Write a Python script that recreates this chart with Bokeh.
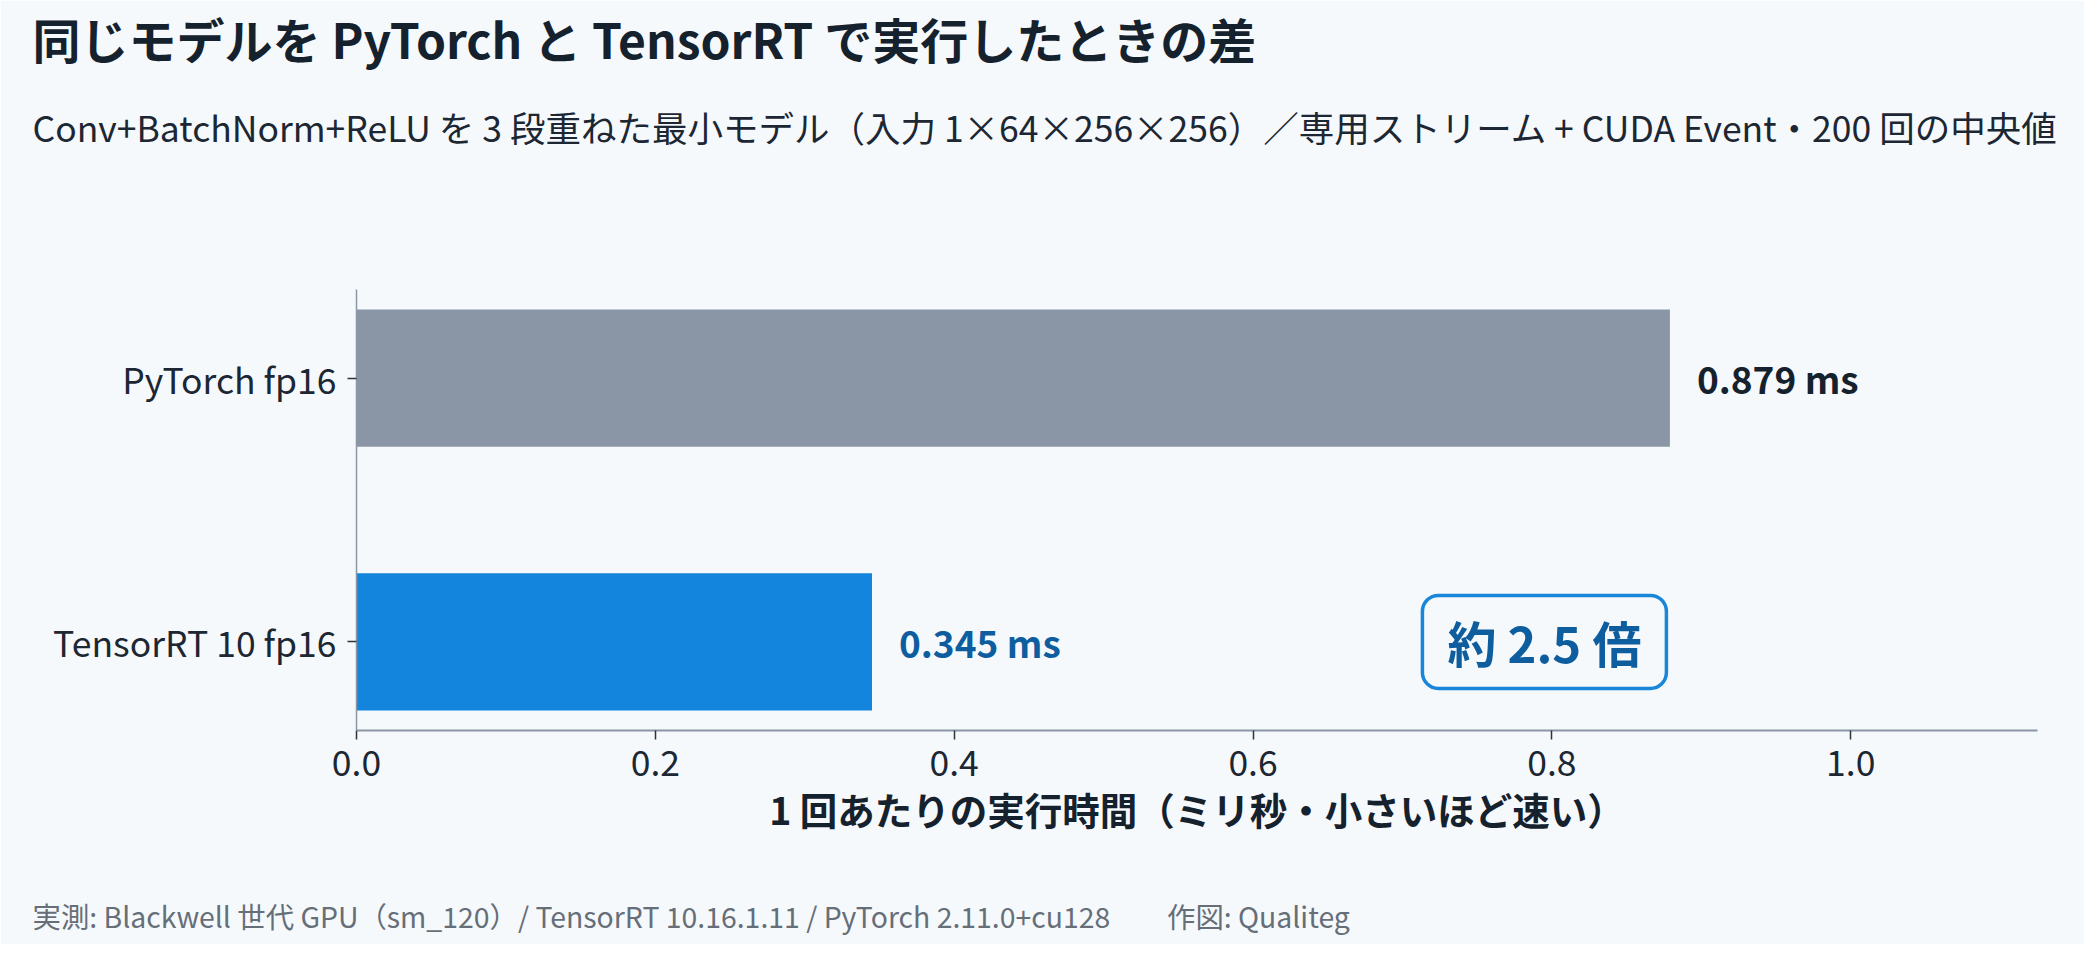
from bokeh.plotting import figure
from bokeh.models import Range1d, FixedTicker, Label, Title, ColumnDataSource, NumeralTickFormatter
from bokeh.core.properties import value
from bokeh.embed import file_html
from bokeh.resources import INLINE

# ---- data ----
categories = ["TensorRT 10 fp16", "PyTorch fp16"]
times_ms = [0.345, 0.879]
bar_colors = ["#1385dc", "#8a96a5"]
label_colors = ["#0e5e9f", "#15222e"]
x_ticks = [0.0, 0.2, 0.4, 0.6, 0.8, 1.0]

title_text = "同じモデルを PyTorch と TensorRT で実行したときの差"
subtitle_text = "Conv+BatchNorm+ReLU を 3 段重ねた最小モデル（入力 1×64×256×256）／専用ストリーム + CUDA Event・200 回の中央値"
xlabel_text = "1 回あたりの実行時間（ミリ秒・小さいほど速い）"
footer_text = "実測: Blackwell 世代 GPU（sm_120）/ TensorRT 10.16.1.11 / PyTorch 2.11.0+cu128　　作図: Qualiteg"

FONT = "Noto Sans CJK JP"
BG = "#f5f9fc"
DARK = "#15222e"

W, H = 2084, 944
FL, FR, FT, FB = 356, 2037, 287, 730  # frame edges in figure px
X0, X1 = 0.0, 1.125
Y0, Y1 = -0.336, 1.336

p = figure(width=W, height=H, output_backend="svg", toolbar_location=None,
           x_range=Range1d(X0, X1), y_range=Range1d(Y0, Y1),
           min_border_left=FL, min_border_right=W - FR,
           min_border_top=FT, min_border_bottom=H - FB)
p.background_fill_color = BG
p.border_fill_color = BG
p.outline_line_color = None
p.grid.visible = False

ys = list(range(len(categories)))
src = ColumnDataSource(dict(y=ys, t=times_ms, c=bar_colors, lc=label_colors,
                            lab=["%.3f ms" % v for v in times_ms]))
p.hbar(y="y", left=0, right="t", height=0.52, fill_color="c", line_color=None, source=src)
p.text(x="t", y="y", text="lab", x_offset=27, text_color="lc",
       text_font=value(FONT), text_font_style="bold", text_font_size="37px",
       text_baseline="middle", text_align="left", source=src)

# axes
p.xaxis.ticker = FixedTicker(ticks=x_ticks)
p.xaxis.formatter = NumeralTickFormatter(format="0.0")
p.yaxis.ticker = FixedTicker(ticks=ys)
p.yaxis.major_label_overrides = {i: c for i, c in enumerate(categories)}
for ax in (p.xaxis[0], p.yaxis[0]):
    ax.axis_line_color = "#8a96a5"
    ax.axis_line_width = 2
    ax.major_tick_line_color = "#2b3540"
    ax.major_tick_line_width = 1.5
    ax.major_tick_in = 0
    ax.major_tick_out = 9
    ax.minor_tick_line_color = None
    ax.major_label_text_font = FONT
    ax.major_label_text_font_size = "35.5px"
    ax.major_label_text_color = "#1c2733"
p.yaxis.axis_line_width = 1.5
p.xaxis.major_label_standoff = 10
p.yaxis.major_label_standoff = 11
p.xaxis.axis_label = xlabel_text
p.xaxis.axis_label_text_font = FONT
p.xaxis.axis_label_text_font_style = "bold"
p.xaxis.axis_label_text_font_size = "37.5px"
p.xaxis.axis_label_text_color = DARK
p.xaxis.axis_label_standoff = 2

# speed-up badge
ratio = times_ms[1] / times_ms[0]
p.add_layout(Label(x=0.795, y=ys[0], text="約 %.1f 倍" % (int(ratio * 10) / 10),
                   text_font=FONT, text_font_style="bold", text_font_size="49px",
                   text_color="#0e5e9f", text_align="center", text_baseline="middle",
                   background_fill_color=BG, border_line_color="#1a86da",
                   border_line_width=3.5, border_radius=16, padding=(25, 11)))

# page texts as titles in the side panels
TEXT_X = 32 - FL
p.add_layout(Title(text=subtitle_text, align="left", offset=TEXT_X, standoff=0,
                   padding=dict(left=0, right=0, top=0, bottom=138),
                   text_font=FONT, text_font_size="35.5px", text_font_style="normal",
                   text_color="#1c2733"), "above")
p.add_layout(Title(text=title_text, align="left", offset=TEXT_X, standoff=0,
                   padding=dict(left=0, right=0, top=0, bottom=26),
                   text_font=FONT, text_font_size="48px", text_font_style="bold",
                   text_color=DARK), "above")
p.add_layout(Title(text=footer_text, align="left", offset=TEXT_X, standoff=0,
                   padding=dict(left=0, right=0, top=54, bottom=0),
                   text_font=FONT, text_font_size="28.4px", text_font_style="normal",
                   text_color="#666e78"), "below")

open("out.html", "w").write(file_html(p, INLINE))
